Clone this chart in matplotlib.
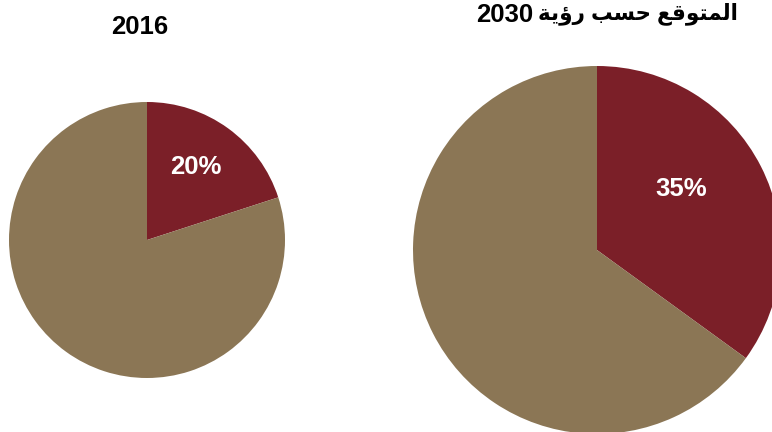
import matplotlib
matplotlib.use("Agg")
import matplotlib.pyplot as plt

# share of the total, first slice is the highlighted one
labels = ["share", "rest"]
values_2016 = [20, 80]
values_2030 = [35, 65]
title_2016 = "2016"
year_2030 = "2030"
# "المتوقع حسب رؤية" written in shaped presentation forms, visual order
title_2030 = ("\uFE94\uFEF3\uFE85\uFEAD "
              "\uFE90\uFEB4\uFEA3 "
              "\uFECA\uFED7\uFEEE\uFE98\uFEE4\uFEDF\uFE8D")

colors = ["#7B1F28", "#8B7655"]
fonts = ["Liberation Sans", "DejaVu Sans"]

W, H = 772, 432
fig = plt.figure(figsize=(W / 100, H / 100), dpi=100)


def px_axes(x0, y0, size):
    return fig.add_axes([x0 / W, 1 - (y0 + size) / H, size / W, size / H])


def draw_pie(ax, values, label_pos):
    wedges, texts, auto = ax.pie(
        values, colors=colors, startangle=90, counterclock=False,
        radius=1, autopct=lambda p: f"{p:.0f}%" if p < 50 else "",
        textprops=dict(color="white", fontsize=18.5, fontweight="bold",
                       family=fonts),
        wedgeprops=dict(linewidth=0))
    auto[0].set_position(label_pos)
    ax.set_xlim(-1, 1)
    ax.set_ylim(-1, 1)
    ax.set_aspect("equal")
    ax.axis("off")


ax1 = px_axes(9, 102, 276)
draw_pie(ax1, values_2016, (0.355, 0.53))

ax2 = px_axes(413, 66, 368)
draw_pie(ax2, values_2030, (0.46, 0.33))

fig.text(140 / W, 1 - 27 / H, title_2016, ha="center", va="center",
         fontsize=18.5, fontweight="bold", family=fonts)
fig.text(533 / W, 1 - 15 / H, year_2030, ha="right", va="center",
         fontsize=18.5, fontweight="bold", family=fonts)
fig.text(538 / W, 1 - 14 / H, title_2030, ha="left", va="center",
         fontsize=15.5, fontweight="bold", family=fonts)

fig.savefig("out.png", dpi=100)
